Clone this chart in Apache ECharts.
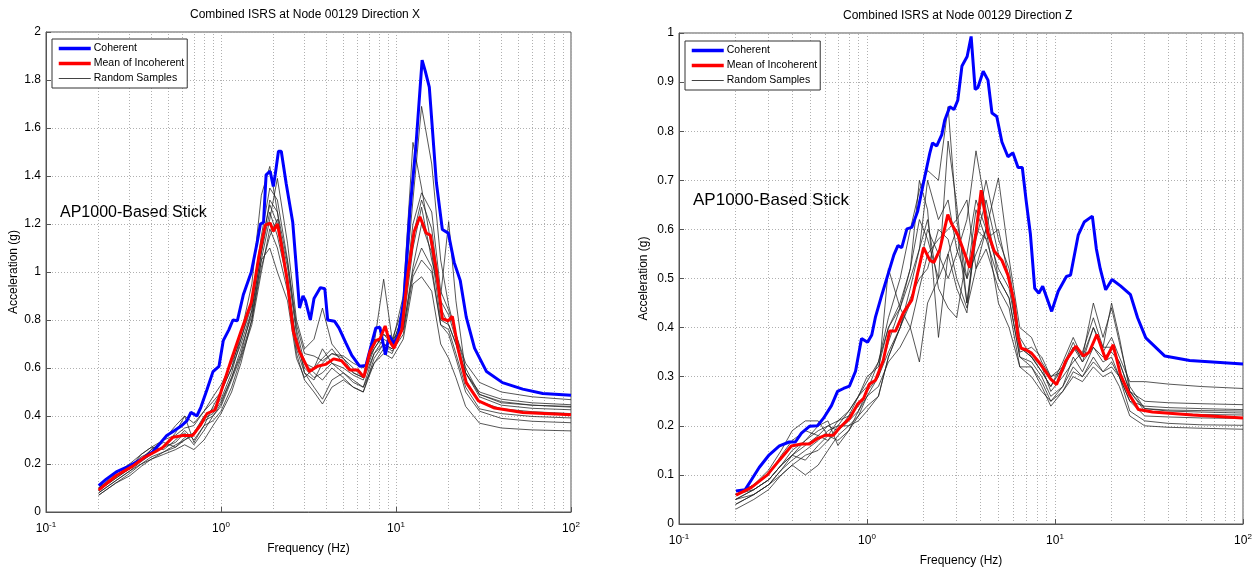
<!DOCTYPE html>
<html lang="en">
<head>
    <meta charset="UTF-8">
    <title>Combined ISRS at Node 00129</title>
    <style>
        html, body { margin: 0; padding: 0; background: #fff; }
        .main { width: 1260px; height: 572px; }
    </style>
    <script src="https://cdn.jsdelivr.net/npm/echarts@6/dist/echarts.min.js"></script>
</head>
<body>
    <div class="main"></div>
    <script>
        // frequency grid shared by the thin random-sample curves (Hz)
        var sampleFreqs = [0.2, 0.25, 0.3, 0.35, 0.4, 0.47, 0.55, 0.62, 0.7, 0.8, 0.9, 1.0, 1.15, 1.3, 1.5, 1.7, 1.9, 2.1, 2.4, 2.7,
            3.0, 3.4, 3.8, 4.3, 5.0, 5.7, 6.5, 7.5, 8.5, 9.5, 11, 12.5, 14, 16, 18, 20, 22, 25, 30, 40, 60, 100];

        // minor grid lines of the log axis
        var minorFreqs = [0.2, 0.3, 0.4, 0.5, 0.6, 0.7, 0.8, 0.9, 2, 3, 4, 5, 6, 7, 8, 9, 20, 30, 40, 50, 60, 70, 80, 90];

        // ---- Direction X : [frequency, acceleration]
        var coherentX = [[0.2, 0.11], [0.221, 0.137], [0.252, 0.167], [0.296, 0.19], [0.347, 0.217], [0.406, 0.25], [0.452, 0.289],
            [0.49, 0.319], [0.53, 0.334], [0.589, 0.357], [0.638, 0.38], [0.673, 0.415], [0.728, 0.40], [0.767, 0.436], [0.831, 0.509],
            [0.9, 0.585], [0.974, 0.607], [1.03, 0.714], [1.11, 0.76], [1.17, 0.80], [1.24, 0.797], [1.34, 0.904], [1.49, 1.0],
            [1.61, 1.124], [1.68, 1.2], [1.75, 1.207], [1.81, 1.405], [1.91, 1.42], [1.99, 1.356], [2.04, 1.405], [2.13, 1.503],
            [2.21, 1.503], [2.36, 1.367], [2.57, 1.207], [2.66, 1.07], [2.81, 0.85], [2.94, 0.90], [3.04, 0.88], [3.24, 0.80],
            [3.4, 0.89], [3.7, 0.935], [3.92, 0.93], [4.07, 0.80], [4.45, 0.795], [4.72, 0.767], [5.16, 0.706], [5.59, 0.653],
            [6.21, 0.607], [6.73, 0.61], [7.28, 0.706], [7.67, 0.767], [8.09, 0.77], [8.7, 0.655], [9.14, 0.736], [9.74, 0.70],
            [10.3, 0.736], [11.1, 0.888], [12.0, 1.253], [13.0, 1.526], [14.1, 1.883], [14.7, 1.837], [15.5, 1.77], [17.0, 1.374],
            [18.4, 1.177], [19.9, 1.162], [21.5, 1.04], [23.3, 0.964], [25.2, 0.812], [28.1, 0.683], [32.9, 0.585], [40.6, 0.539],
            [53, 0.512], [69, 0.494], [100, 0.486]];

        var meanX = [[0.2, 0.091], [0.252, 0.152], [0.312, 0.19], [0.366, 0.228], [0.418, 0.25], [0.464, 0.269], [0.53, 0.311],
            [0.605, 0.319], [0.69, 0.319], [0.767, 0.364], [0.831, 0.41], [0.924, 0.425], [1.0, 0.501], [1.14, 0.63], [1.30, 0.752],
            [1.49, 0.873], [1.65, 1.07], [1.79, 1.195], [1.91, 1.204], [1.99, 1.17], [2.10, 1.20], [2.21, 1.116], [2.39, 0.964],
            [2.59, 0.752], [2.81, 0.668], [3.20, 0.585], [3.56, 0.607], [3.96, 0.615], [4.40, 0.638], [4.89, 0.63], [5.44, 0.592],
            [6.05, 0.592], [6.55, 0.562], [7.09, 0.668], [7.67, 0.714], [8.09, 0.721], [8.67, 0.775], [9.14, 0.714], [9.74, 0.683],
            [10.8, 0.759], [11.7, 0.994], [12.7, 1.169], [13.7, 1.23], [14.9, 1.162], [15.7, 1.154], [17.0, 1.01], [18.4, 0.805],
            [19.9, 0.797], [21.0, 0.815], [22.7, 0.676], [25.2, 0.539], [29.6, 0.463], [36.6, 0.433], [53, 0.415], [100, 0.405]];

        var samplesX = [
            [0.10, 0.15, 0.19, 0.22, 0.26, 0.30, 0.36, 0.40, 0.37, 0.42, 0.48, 0.53, 0.62, 0.72, 0.88, 1.15, 1.35, 1.30, 1.05, 0.78, 0.66, 0.65, 0.63, 0.66, 0.65, 0.62, 0.60, 0.68, 0.74, 0.72, 0.85, 1.30, 1.69, 1.45, 1.05, 0.86, 0.74, 0.62, 0.54, 0.50, 0.48, 0.468],
            [0.09, 0.14, 0.18, 0.24, 0.27, 0.26, 0.30, 0.34, 0.30, 0.36, 0.44, 0.50, 0.60, 0.74, 0.95, 1.32, 1.44, 1.25, 0.95, 0.70, 0.60, 0.56, 0.58, 0.62, 0.60, 0.57, 0.55, 0.66, 0.72, 0.70, 0.90, 1.54, 1.35, 1.10, 0.85, 0.78, 0.70, 0.58, 0.50, 0.47, 0.455, 0.447],
            [0.08, 0.13, 0.17, 0.21, 0.24, 0.27, 0.29, 0.33, 0.28, 0.34, 0.40, 0.45, 0.56, 0.68, 0.82, 1.05, 1.22, 1.39, 1.12, 0.80, 0.68, 0.72, 0.85, 0.70, 0.64, 0.60, 0.56, 0.72, 0.70, 0.68, 0.84, 1.20, 1.33, 1.25, 0.92, 0.84, 0.74, 0.60, 0.49, 0.46, 0.445, 0.437],
            [0.07, 0.12, 0.16, 0.20, 0.23, 0.25, 0.28, 0.30, 0.32, 0.38, 0.40, 0.44, 0.55, 0.65, 0.80, 1.02, 1.15, 1.22, 1.02, 0.74, 0.58, 0.52, 0.47, 0.55, 0.58, 0.55, 0.52, 0.62, 0.68, 0.66, 0.78, 1.10, 1.27, 1.05, 0.90, 1.21, 0.88, 0.58, 0.48, 0.445, 0.432, 0.426],
            [0.09, 0.14, 0.18, 0.22, 0.26, 0.29, 0.27, 0.30, 0.33, 0.40, 0.43, 0.47, 0.58, 0.72, 0.86, 1.12, 1.28, 1.20, 0.98, 0.68, 0.58, 0.55, 0.62, 0.66, 0.64, 0.58, 0.56, 0.70, 0.97, 0.72, 0.76, 1.02, 1.20, 1.08, 0.80, 0.78, 0.70, 0.55, 0.46, 0.43, 0.418, 0.41],
            [0.10, 0.15, 0.19, 0.23, 0.25, 0.27, 0.33, 0.40, 0.29, 0.36, 0.38, 0.42, 0.52, 0.64, 0.78, 1.00, 1.18, 1.10, 0.92, 0.66, 0.55, 0.50, 0.45, 0.52, 0.55, 0.52, 0.50, 0.64, 0.70, 0.68, 0.76, 1.00, 1.10, 1.02, 0.78, 0.76, 0.66, 0.52, 0.43, 0.41, 0.398, 0.392],
            [0.08, 0.13, 0.17, 0.20, 0.22, 0.24, 0.26, 0.28, 0.26, 0.30, 0.36, 0.41, 0.50, 0.62, 0.80, 1.05, 1.10, 1.00, 0.88, 0.64, 0.56, 0.60, 0.68, 0.62, 0.58, 0.54, 0.52, 0.66, 0.70, 0.67, 0.74, 0.98, 1.05, 1.00, 0.78, 0.74, 0.64, 0.50, 0.42, 0.39, 0.378, 0.372],
            [0.07, 0.12, 0.15, 0.19, 0.22, 0.25, 0.27, 0.31, 0.33, 0.39, 0.41, 0.46, 0.56, 0.66, 0.84, 1.08, 1.25, 1.15, 0.96, 0.70, 0.62, 0.58, 0.55, 0.60, 0.56, 0.52, 0.50, 0.62, 0.66, 0.64, 0.72, 0.95, 0.98, 0.92, 0.70, 0.64, 0.56, 0.44, 0.37, 0.35, 0.342, 0.338],
            [0.10, 0.16, 0.20, 0.24, 0.27, 0.30, 0.32, 0.35, 0.36, 0.42, 0.46, 0.50, 0.60, 0.70, 0.84, 1.08, 1.30, 1.25, 1.04, 0.76, 0.62, 0.60, 0.64, 0.68, 0.62, 0.58, 0.56, 0.68, 0.74, 0.70, 0.82, 1.15, 1.30, 1.18, 0.88, 0.82, 0.72, 0.58, 0.49, 0.455, 0.445, 0.44]
        ];

        // ---- Direction Z
        var coherentZ = [[0.201, 0.067], [0.225, 0.07], [0.242, 0.089], [0.267, 0.115], [0.302, 0.141], [0.342, 0.159], [0.386, 0.167],
            [0.416, 0.167], [0.448, 0.185], [0.494, 0.199], [0.545, 0.2], [0.586, 0.215], [0.647, 0.241], [0.697, 0.27], [0.75, 0.276],
            [0.807, 0.281], [0.869, 0.311], [0.935, 0.378], [1.007, 0.37], [1.06, 0.385], [1.11, 0.422], [1.2, 0.467], [1.29, 0.507],
            [1.39, 0.548], [1.46, 0.567], [1.53, 0.563], [1.63, 0.601], [1.73, 0.604], [1.86, 0.637], [2.0, 0.696], [2.16, 0.756],
            [2.23, 0.776], [2.35, 0.77], [2.5, 0.793], [2.59, 0.822], [2.76, 0.85], [2.9, 0.844], [3.04, 0.863], [3.2, 0.933],
            [3.41, 0.952], [3.58, 0.993], [3.76, 0.885], [3.89, 0.889], [4.15, 0.922], [4.4, 0.904], [4.62, 0.837], [4.9, 0.83],
            [5.22, 0.778], [5.62, 0.748], [5.97, 0.756], [6.36, 0.726], [6.7, 0.726], [7.02, 0.659], [7.4, 0.59], [7.8, 0.48],
            [8.2, 0.47], [8.6, 0.484], [9.6, 0.433], [10.4, 0.474], [11.5, 0.504], [12.1, 0.507], [13.3, 0.589], [14.3, 0.615],
            [15.8, 0.627], [16.6, 0.56], [17.4, 0.52], [18.6, 0.477], [20.1, 0.498], [22.3, 0.485], [25.2, 0.467], [27.5, 0.42],
            [30.4, 0.379], [38.4, 0.342], [52, 0.333], [100, 0.326]];

        var meanZ = [[0.201, 0.059], [0.242, 0.074], [0.295, 0.1], [0.342, 0.13], [0.396, 0.159], [0.448, 0.163], [0.494, 0.163],
            [0.545, 0.174], [0.602, 0.181], [0.664, 0.181], [0.715, 0.196], [0.807, 0.215], [0.891, 0.244], [0.96, 0.256],
            [1.03, 0.285], [1.11, 0.293], [1.22, 0.333], [1.32, 0.393], [1.42, 0.393], [1.56, 0.43], [1.73, 0.456], [1.86, 0.511],
            [2.0, 0.563], [2.16, 0.537], [2.27, 0.533], [2.44, 0.559], [2.69, 0.63], [2.83, 0.61], [3.04, 0.589], [3.27, 0.556],
            [3.52, 0.522], [3.79, 0.59], [4.05, 0.68], [4.40, 0.593], [4.75, 0.556], [5.22, 0.537], [5.62, 0.507], [6.06, 0.452],
            [6.36, 0.381], [6.6, 0.358], [7.0, 0.355], [7.5, 0.348], [8.2, 0.33], [8.9, 0.311], [9.5, 0.295], [10.2, 0.284],
            [11.4, 0.332], [12.9, 0.362], [14.2, 0.342], [15.2, 0.35], [16.7, 0.386], [18.6, 0.335], [20.4, 0.365], [22.3, 0.304],
            [24.9, 0.263], [27.8, 0.233], [33, 0.228], [54, 0.222], [100, 0.216]];

        var samplesZ = [
            [0.05, 0.07, 0.09, 0.12, 0.15, 0.17, 0.19, 0.20, 0.19, 0.22, 0.26, 0.29, 0.33, 0.42, 0.50, 0.60, 0.68, 0.72, 0.70, 0.85, 0.62, 0.50, 0.55, 0.60, 0.52, 0.48, 0.36, 0.34, 0.31, 0.28, 0.32, 0.36, 0.33, 0.40, 0.35, 0.38, 0.34, 0.29, 0.29, 0.285, 0.28, 0.276],
            [0.06, 0.08, 0.11, 0.15, 0.19, 0.21, 0.21, 0.18, 0.17, 0.19, 0.22, 0.26, 0.30, 0.37, 0.44, 0.52, 0.62, 0.58, 0.50, 0.78, 0.65, 0.45, 0.60, 0.70, 0.58, 0.52, 0.38, 0.34, 0.32, 0.27, 0.30, 0.33, 0.35, 0.42, 0.36, 0.36, 0.33, 0.27, 0.25, 0.247, 0.245, 0.243],
            [0.04, 0.06, 0.08, 0.11, 0.14, 0.17, 0.20, 0.21, 0.16, 0.19, 0.23, 0.27, 0.30, 0.35, 0.40, 0.45, 0.52, 0.60, 0.55, 0.50, 0.55, 0.62, 0.76, 0.64, 0.50, 0.46, 0.34, 0.33, 0.30, 0.26, 0.28, 0.34, 0.31, 0.36, 0.33, 0.34, 0.30, 0.25, 0.24, 0.237, 0.235, 0.233],
            [0.06, 0.07, 0.09, 0.12, 0.14, 0.13, 0.16, 0.18, 0.21, 0.22, 0.24, 0.27, 0.33, 0.40, 0.45, 0.52, 0.70, 0.64, 0.38, 0.55, 0.60, 0.45, 0.58, 0.66, 0.55, 0.50, 0.35, 0.36, 0.34, 0.30, 0.31, 0.36, 0.34, 0.45, 0.38, 0.44, 0.37, 0.28, 0.235, 0.23, 0.228, 0.226],
            [0.05, 0.06, 0.08, 0.10, 0.12, 0.10, 0.12, 0.15, 0.18, 0.20, 0.22, 0.24, 0.26, 0.34, 0.40, 0.46, 0.50, 0.52, 0.60, 0.58, 0.50, 0.44, 0.52, 0.60, 0.705, 0.54, 0.40, 0.38, 0.33, 0.30, 0.32, 0.37, 0.33, 0.36, 0.34, 0.35, 0.33, 0.27, 0.23, 0.225, 0.223, 0.222],
            [0.06, 0.08, 0.10, 0.14, 0.17, 0.19, 0.18, 0.17, 0.20, 0.23, 0.26, 0.28, 0.30, 0.52, 0.44, 0.40, 0.48, 0.55, 0.58, 0.60, 0.62, 0.66, 0.52, 0.56, 0.48, 0.44, 0.32, 0.32, 0.29, 0.25, 0.28, 0.32, 0.30, 0.33, 0.31, 0.32, 0.30, 0.25, 0.22, 0.218, 0.216, 0.215],
            [0.03, 0.05, 0.07, 0.10, 0.12, 0.14, 0.15, 0.17, 0.19, 0.21, 0.23, 0.26, 0.28, 0.33, 0.36, 0.40, 0.33, 0.45, 0.50, 0.55, 0.48, 0.43, 0.60, 0.58, 0.50, 0.46, 0.34, 0.32, 0.28, 0.24, 0.27, 0.31, 0.30, 0.34, 0.31, 0.33, 0.30, 0.23, 0.21, 0.205, 0.202, 0.201],
            [0.04, 0.06, 0.08, 0.11, 0.13, 0.15, 0.17, 0.19, 0.20, 0.20, 0.21, 0.23, 0.26, 0.34, 0.40, 0.48, 0.56, 0.62, 0.48, 0.44, 0.42, 0.55, 0.66, 0.60, 0.45, 0.40, 0.32, 0.30, 0.27, 0.25, 0.27, 0.30, 0.29, 0.32, 0.30, 0.31, 0.28, 0.22, 0.20, 0.197, 0.195, 0.193],
            [0.05, 0.07, 0.09, 0.12, 0.14, 0.16, 0.18, 0.20, 0.21, 0.23, 0.26, 0.30, 0.32, 0.40, 0.44, 0.50, 0.56, 0.70, 0.62, 0.66, 0.56, 0.50, 0.64, 0.58, 0.60, 0.50, 0.36, 0.34, 0.31, 0.28, 0.33, 0.38, 0.34, 0.40, 0.36, 0.45, 0.38, 0.27, 0.235, 0.232, 0.231, 0.23]
        ];

        var font = 'Liberation Sans, Arial, sans-serif';
        var axisColor = '#555';
        var gridLine = { show: true, lineStyle: { color: '#b0b0b0', type: [1, 2], width: 1 } };

        function pairs(values) {
            return values.map(function (v, i) { return [sampleFreqs[i], v]; });
        }

        function xAxisFor(idx) {
            return {
                type: 'log', logBase: 10, min: 0.1, max: 100, gridIndex: idx,
                name: 'Frequency (Hz)', nameLocation: 'middle', nameGap: 31,
                nameTextStyle: { fontFamily: font, fontSize: 12, color: '#000' },
                axisLine: { lineStyle: { color: axisColor } },
                axisTick: { inside: true, length: 5, lineStyle: { color: axisColor } },
                splitLine: gridLine,
                axisLabel: {
                    color: '#000', margin: 9,
                    formatter: function (v) {
                        return '{b|10}{s|' + Math.round(Math.log10(v)) + '}';
                    },
                    rich: {
                        b: { fontFamily: font, fontSize: 12, color: '#000' },
                        s: { fontFamily: font, fontSize: 8, color: '#000', verticalAlign: 'top', padding: [0, 0, 8, 0] }
                    }
                }
            };
        }

        function yAxisFor(idx, max, step, gap) {
            return {
                type: 'value', min: 0, max: max, interval: step, gridIndex: idx,
                name: 'Acceleration (g)', nameLocation: 'middle', nameGap: gap,
                nameTextStyle: { fontFamily: font, fontSize: 12, color: '#000' },
                axisLine: { show: true, lineStyle: { color: axisColor } },
                axisTick: { show: true, inside: true, length: 5, lineStyle: { color: axisColor } },
                splitLine: gridLine,
                axisLabel: { fontFamily: font, fontSize: 12, color: '#000', margin: 5 }
            };
        }

        function panelSeries(idx, coherent, mean, samples) {
            var list = [];
            // minor decade grid lines
            list.push({
                type: 'line', xAxisIndex: idx, yAxisIndex: idx, data: [], silent: true, z: 1,
                markLine: {
                    silent: true, symbol: 'none', animation: false, label: { show: false }, z: 1,
                    lineStyle: { color: '#b0b0b0', type: [1, 2], width: 1 },
                    data: minorFreqs.map(function (f) { return { xAxis: f }; })
                }
            });
            samples.forEach(function (s) {
                list.push({
                    name: 'Random Samples', type: 'line', xAxisIndex: idx, yAxisIndex: idx,
                    data: pairs(s), showSymbol: false, symbol: 'none', z: 6,
                    lineStyle: { color: '#222', width: 0.9, opacity: 0.85 }, itemStyle: { color: '#222' }
                });
            });
            list.push({
                name: 'Coherent', type: 'line', xAxisIndex: idx, yAxisIndex: idx,
                data: coherent, showSymbol: false, symbol: 'none', z: 7,
                lineStyle: { color: '#0000ff', width: 3 }, itemStyle: { color: '#0000ff' }
            });
            list.push({
                name: 'Mean of Incoherent', type: 'line', xAxisIndex: idx, yAxisIndex: idx,
                data: mean, showSymbol: false, symbol: 'none', z: 8,
                lineStyle: { color: '#ff0000', width: 3 }, itemStyle: { color: '#ff0000' }
            });
            return list;
        }

        function legendAt(left, top) {
            return {
                left: left, top: top, orient: 'vertical', selectedMode: false, z: 10,
                data: [
                    { name: 'Coherent', lineStyle: { width: 3.5 } },
                    { name: 'Mean of Incoherent', lineStyle: { width: 3.5 } },
                    { name: 'Random Samples', lineStyle: { width: 1 } }
                ],
                itemWidth: 32, itemHeight: 12, itemGap: 4,
                itemStyle: { opacity: 0 },
                padding: [4, 3, 4, 5], borderColor: '#333', borderWidth: 1, backgroundColor: '#fff',
                textStyle: { fontFamily: font, fontSize: 10.5, color: '#000', padding: [0, 0, 0, -2] }
            };
        }

        var myChart = echarts.init(document.querySelector('.main'));
        var option = {
            backgroundColor: '#fff',
            animation: false,
            grid: [
                { left: 46, top: 32, width: 525, height: 480, show: true, borderColor: axisColor, borderWidth: 1 },
                { left: 679, top: 33, width: 564, height: 493, show: true, borderColor: axisColor, borderWidth: 1 }
            ],
            xAxis: [xAxisFor(0), xAxisFor(1)],
            yAxis: [yAxisFor(0, 2, 0.2, 26), yAxisFor(1, 1, 0.1, 29)],
            legend: [legendAt(52, 39), legendAt(685, 41)],
            graphic: [
                { type: 'text', left: 308 - 118, top: 9, style: { text: 'Combined ISRS at Node 00129 Direction X', font: '12px ' + font, fill: '#000' } },
                { type: 'text', left: 961 - 118, top: 10, style: { text: 'Combined ISRS at Node 00129 Direction Z', font: '12px ' + font, fill: '#000' } },
                { type: 'text', left: 60, top: 205, style: { text: 'AP1000-Based Stick', font: '16px ' + font, fill: '#000' } },
                { type: 'text', left: 693, top: 192, style: { text: 'AP1000-Based Stick', font: '17px ' + font, fill: '#000' } }
            ],
            series: panelSeries(0, coherentX, meanX, samplesX).concat(panelSeries(1, coherentZ, meanZ, samplesZ))
        };
        myChart.setOption(option);
    </script>
</body>
</html>
